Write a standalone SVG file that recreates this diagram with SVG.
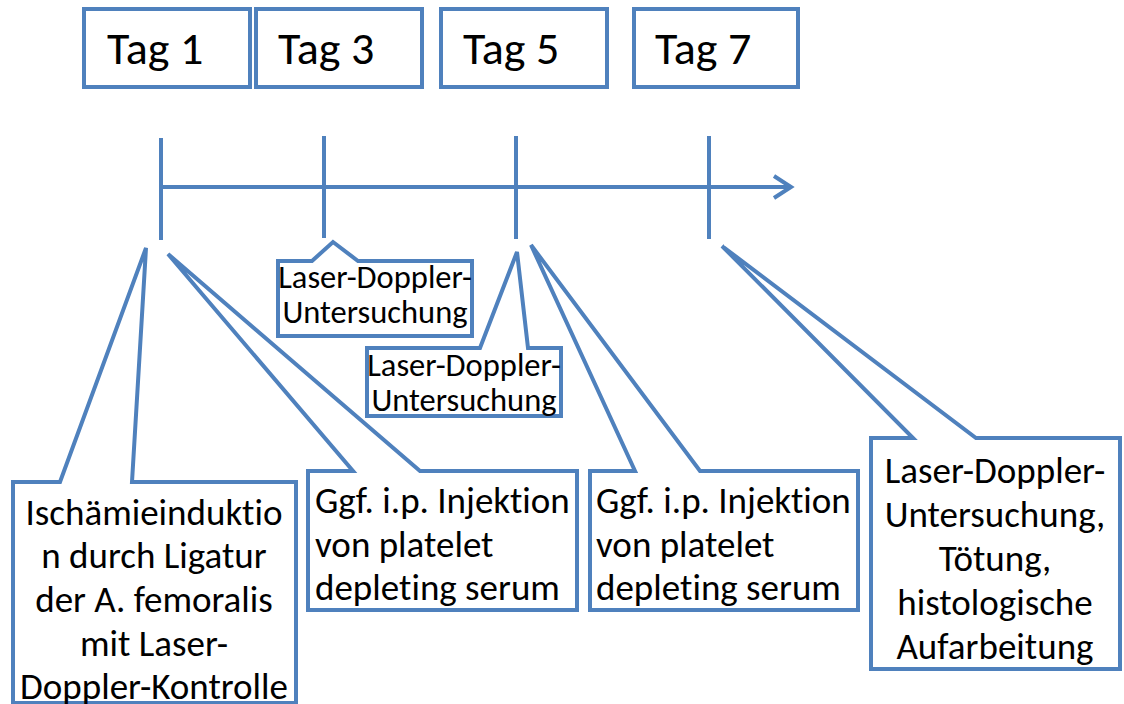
<svg xmlns="http://www.w3.org/2000/svg" width="1124" height="704" viewBox="0 0 1124 704">
<style>
.box{fill:#fff;stroke:#4F81BD;stroke-width:4;stroke-linejoin:miter}
.ln{stroke:#4F81BD;stroke-width:4;fill:none}
.t{font-family:Carlito,"Liberation Sans",Arial,sans-serif;fill:#000;font-variant-ligatures:none}
.big{font-size:46px}
.mid{font-size:37px}
.sm{font-size:32.5px}
</style>
<rect width="1124" height="704" fill="#fff"/>
<g id="tag1"><rect class="box" x="84" y="9" width="166" height="78"/><text class="t big" x="107" y="64">Tag 1</text></g>
<g id="tag3"><rect class="box" x="256" y="9" width="166" height="78"/><text class="t big" x="278" y="64">Tag 3</text></g>
<g id="tag5"><rect class="box" x="441" y="9" width="166" height="78"/><text class="t big" x="463" y="64">Tag 5</text></g>
<g id="tag7"><rect class="box" x="634" y="9" width="164" height="78"/><text class="t big" x="655" y="64">Tag 7</text></g>
<g id="connectors">
<line class="ln" x1="161" y1="187" x2="790" y2="187"/>
<polyline class="ln" points="774,176 791,187 774,198"/>
<line class="ln" x1="161" y1="138" x2="161" y2="240"/>
<line class="ln" x1="324" y1="136" x2="324" y2="238"/>
<line class="ln" x1="516" y1="136" x2="516" y2="239"/>
<line class="ln" x1="709" y1="136" x2="709" y2="239"/>
</g>
<g id="laser1"><path class="box" d="M278,261 L312,261 L333,242 L358,261 L472,261 L472,336 L278,336 Z"/>
<text class="t sm" text-anchor="middle" x="375" y="288">Laser-Doppler-</text>
<text class="t sm" text-anchor="middle" x="375" y="323">Untersuchung</text></g>
<g id="ggf1"><path class="box" d="M308,471 L353,471 L168,254 L420,471 L577,471 L577,610 L308,610 Z"/>
<text class="t mid" x="315" y="513">Ggf. i.p. Injektion</text>
<text class="t mid" x="315" y="557">von platelet</text>
<text class="t mid" x="315" y="600">depleting serum</text></g>
<g id="laser2"><path class="box" d="M367,348 L480,348 L517,252 L528,348 L561,348 L561,416 L367,416 Z"/>
<text class="t sm" text-anchor="middle" x="464" y="376">Laser-Doppler-</text>
<text class="t sm" text-anchor="middle" x="464" y="411">Untersuchung</text></g>
<g id="ischaemie"><path class="box" d="M13,482 L60,482 L146,248 L132,482 L296,482 L296,703 L13,703 Z"/>
<text class="t mid" text-anchor="middle" x="154" y="525">Ischämieinduktio</text>
<text class="t mid" text-anchor="middle" x="154" y="568">n durch Ligatur</text>
<text class="t mid" text-anchor="middle" x="154" y="612">der A. femoralis</text>
<text class="t mid" text-anchor="middle" x="154" y="656">mit Laser-</text>
<text class="t mid" text-anchor="middle" x="154" y="699">Doppler-Kontrolle</text></g>
<g id="ggf2"><path class="box" d="M590,471 L635,471 L531,245 L700,471 L858,471 L858,610 L590,610 Z"/>
<text class="t mid" x="596" y="513">Ggf. i.p. Injektion</text>
<text class="t mid" x="596" y="557">von platelet</text>
<text class="t mid" x="596" y="600">depleting serum</text></g>
<g id="final"><path class="box" d="M871,438 L913,438 L722,246 L976,438 L1120,438 L1120,669 L871,669 Z"/>
<text class="t mid" text-anchor="middle" x="995" y="483">Laser-Doppler-</text>
<text class="t mid" text-anchor="middle" x="995" y="527">Untersuchung,</text>
<text class="t mid" text-anchor="middle" x="995" y="571">Tötung,</text>
<text class="t mid" text-anchor="middle" x="995" y="615">histologische</text>
<text class="t mid" text-anchor="middle" x="995" y="659">Aufarbeitung</text></g>
</svg>
